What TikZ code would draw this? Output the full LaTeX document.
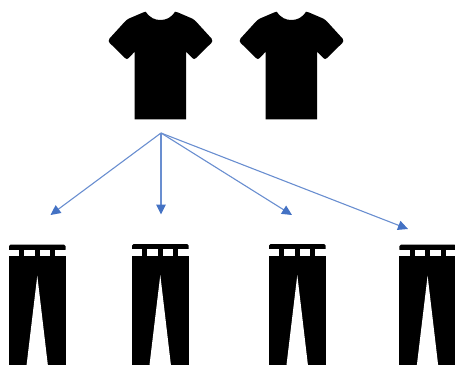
\documentclass[tikz,border=0pt]{standalone}
\usetikzlibrary{arrows.meta}
\definecolor{arrowblue}{HTML}{4472C4}
\tikzset{
  garment/.style={fill=black,draw=none},
  gap/.style={fill=white,draw=none},
  link/.style={draw=arrowblue!80!white,line width=1.1pt,-{Triangle[length=10pt,width=9.5pt,color=arrowblue]}},
  tee/.pic={
    \path[garment] (145.7,11.7)
      .. controls (150,18) and (155,20) .. (160.3,20)
      .. controls (166,20) and (171,18) .. (175,11.7)
      .. controls (176,11.5) and (177,12) .. (178,12.5)
      -- (192,18.5) .. controls (194,19.5) and (195,20.5) .. (196,21.5)
      -- (211.5,38.5) .. controls (212.6,40) and (212.6,42) .. (211.3,43)
      -- (196,58) .. controls (195,59.3) and (193.6,59.3) .. (192.6,58.3)
      -- (186,51.7) -- (186,119.3)
      -- (134.7,119.3) -- (134.7,51.7)
      -- (128.4,58.3) .. controls (127.4,59.3) and (126,59.3) .. (125,58)
      -- (109.7,43) .. controls (108.4,42) and (108.4,40) .. (109.5,38.5)
      -- (125,21.5) .. controls (126,20.5) and (127,19.5) .. (129,18.5)
      -- (143,12.5) .. controls (144,12) and (145,11.5) .. (145.7,11.7) -- cycle;
  },
  trousers/.pic={
    \path[garment,rounded corners=1.5pt] (9,251) -- (9,244.7) -- (65.7,244.7) -- (65.7,251) -- cycle;
    \path[garment] (9,250) rectangle (65.7,372);
    \path[gap] (9,250) rectangle (19.3,256.3);
    \path[gap] (24.3,250) rectangle (35,256.3);
    \path[gap] (39.7,250) rectangle (50.3,256.3);
    \path[gap] (55.3,250) rectangle (65.7,256.3);
    \path[gap] (37.3,275.7) -- (48.65,372) -- (25.75,372) -- cycle;
  }
}
\begin{document}
\begin{tikzpicture}[x=1pt,y=-1pt]
\useasboundingbox (0,0) rectangle (455,364);
\clip (0,0) rectangle (455,364);
\pic (teeA) at (0,0) {tee};
\pic (teeB) at (131,0) {tee};
\pic (pantsA) at (0,0) {trousers};
\pic (pantsB) at (123,-0.7) {trousers};
\pic (pantsC) at (260,-0.7) {trousers};
\pic (pantsD) at (390.3,0) {trousers};
\coordinate (hub) at (161,133);
\coordinate (endA) at (50.5,215);
\coordinate (endB) at (161,214.5);
\coordinate (endC) at (292,215);
\coordinate (endD) at (408,229);
\draw[link] (hub) -- (endA);
\draw[link] (hub) -- (endB);
\draw[link] (hub) -- (endC);
\draw[link] (hub) -- (endD);
\end{tikzpicture}
\end{document}
